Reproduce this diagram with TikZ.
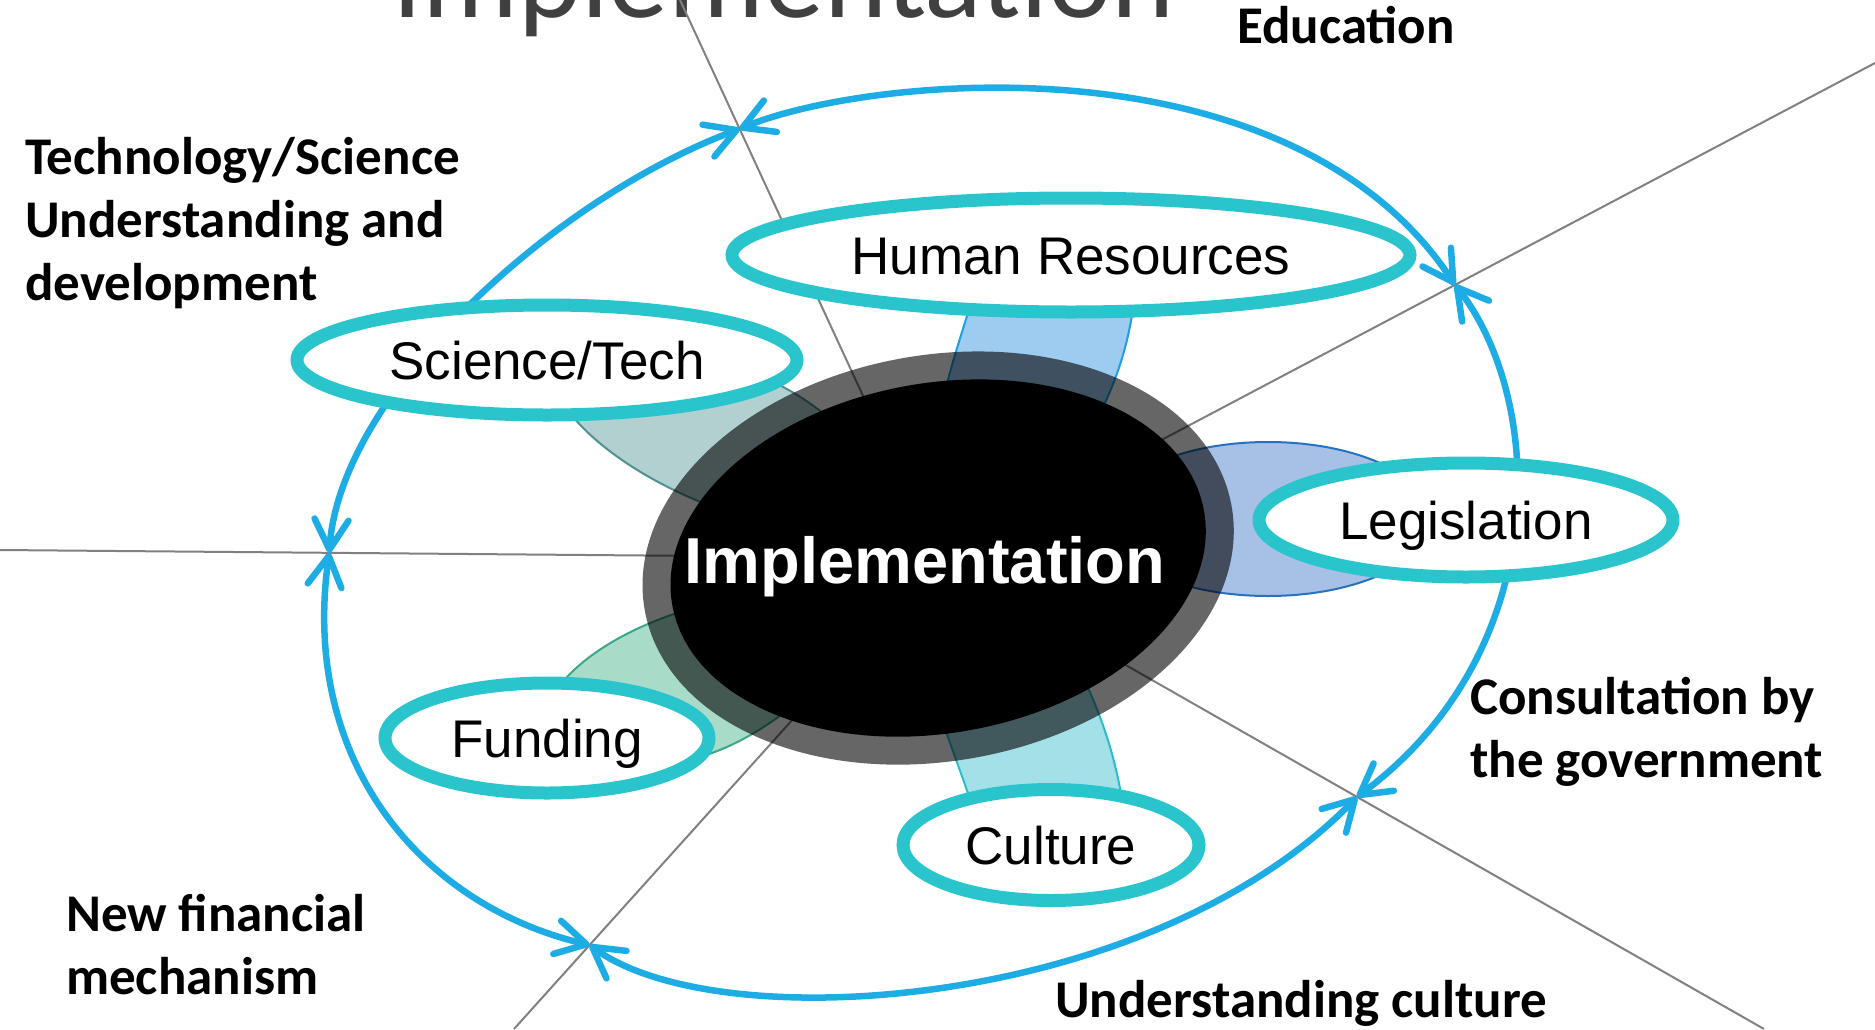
\documentclass[tikz,border=0pt]{standalone}
\usepackage{fontspec}
\setmainfont{Liberation Sans}
\newfontfamily\calfont{Carlito}
\usetikzlibrary{arrows.meta,shapes.geometric,calc}
\definecolor{loopblue}{RGB}{30,172,228}
\definecolor{satteal}{RGB}{42,197,204}
\definecolor{spokegrey}{RGB}{128,128,128}
\definecolor{titlegrey}{RGB}{64,64,64}
\definecolor{hrfill}{RGB}{158,204,240}
\definecolor{hrline}{RGB}{30,160,224}
\definecolor{scfill}{RGB}{178,208,208}
\definecolor{scline}{RGB}{80,144,144}
\definecolor{lgfill}{RGB}{166,192,230}
\definecolor{lgline}{RGB}{40,112,192}
\definecolor{fdfill}{RGB}{169,220,200}
\definecolor{fdline}{RGB}{58,168,136}
\definecolor{cufill}{RGB}{164,224,232}
\definecolor{culine}{RGB}{40,190,204}
\begin{document}
\begin{tikzpicture}[x=1pt,y=-1pt,
  spoke/.style={draw=spokegrey, line width=2pt},
  loopline/.style={draw=loopblue, line width=6.5pt,
    >={Straight Barb[length=30pt,width=34pt,round]}, <->},
  petal/.style 2 args={fill=#1, draw=#2, line width=2pt},
  sat/.style={ellipse, draw=satteal, line width=13pt, fill=white, inner sep=0pt,
    text height=38pt, text depth=0pt, font=\fontsize{53}{53}\selectfont},
  lbl/.style={anchor=base west, inner sep=0pt, align=left,
    font=\calfont\bfseries\fontsize{53}{63}\selectfont}]
\useasboundingbox (0,0) rectangle (1875,1029);
\clip (0,0) rectangle (1875,1029);

% title
\node[anchor=base west, inner sep=0pt, text=titlegrey,
  font=\calfont\fontsize{120}{120}\selectfont] (title) at (392,17) {Implementation};

% spokes
\coordinate (c) at (938,558);
\coordinate (e1) at (680,0);
\coordinate (e2) at (1875,63);
\coordinate (e3) at (0,550);
\coordinate (e4) at (514,1029);
\coordinate (e5) at (1764,1029);
\draw[spoke] (c) -- (e1);
\draw[spoke] (c) -- (e2);
\draw[spoke] (c) -- (e3);
\draw[spoke] (c) -- (e4);
\draw[spoke] (c) -- (e5);
\coordinate (j1) at ($(c)!0.769!(e1)$);
\coordinate (j2) at ($(c)!0.5518!(e2)$);
\coordinate (j3) at ($(c)!0.5073!(e5)$);
\coordinate (j4) at ($(c)!0.8217!(e4)$);
\coordinate (j5) at ($(c)!0.649!(e3)$);

% outer loop
\draw[loopline] (j1) .. controls (870,75) and (1290,35) .. (j2);
\draw[loopline] (j2) .. controls (1545,400) and (1555,650) .. (j3);
\draw[loopline] (j4) .. controls (720,1040) and (1150,1010) .. (j3);
\draw[loopline] (j5) .. controls (300,760) and (420,905) .. (j4);
\draw[loopline] (j1) .. controls (550,200) and (340,395) .. (j5);

% petals
\draw[petal={hrfill}{hrline}] (975,290) .. controls (960,340) and (945,380) .. (935,440)
  -- (1080,450) .. controls (1110,400) and (1130,350) .. (1135,290) -- cycle;
\draw[petal={scfill}{scline}] (560,400) .. controls (600,460) and (690,505) .. (770,525)
  -- (880,480) .. controls (850,430) and (810,395) .. (750,372) -- cycle;
\draw[petal={lgfill}{lgline}] (1268,519) ellipse [x radius=163, y radius=77];
\draw[petal={fdfill}{fdline}] (550,700) .. controls (575,655) and (640,622) .. (700,606)
  .. controls (730,598) and (750,595) .. (770,595) -- (800,700)
  .. controls (770,725) and (735,748) .. (690,760) -- cycle;
\draw[petal={cufill}{culine}] (980,830) .. controls (968,790) and (950,745) .. (935,700)
  -- (930,650) -- (1065,640) .. controls (1090,690) and (1115,740) .. (1125,820) -- cycle;

% centre
\draw[black, draw opacity=0.6, line width=30pt, rotate around={10:(c)}]
  (c) ellipse [x radius=283, y radius=188];
\fill[black, rotate around={10:(c)}] (c) ellipse [x radius=270, y radius=175];
\node[anchor=base, inner sep=0pt, text=white,
  font=\bfseries\fontsize{65}{65}\selectfont] (impl) at (925,583) {Implementation};

% satellites
\node[sat, minimum width=678pt, minimum height=114pt] (hr) at (1071,255) {Human Resources};
\node[sat, minimum width=500pt, minimum height=110pt] (sci) at (547,360) {Science/Tech};
\node[sat, minimum width=414pt, minimum height=114pt] (leg) at (1466,520) {Legislation};
\node[sat, minimum width=324pt, minimum height=110pt] (fund) at (547,738) {Funding};
\node[sat, minimum width=296pt, minimum height=111pt] (cult) at (1051,845) {Culture};

% labels (base anchor = baseline of last line)
\node[lbl] (ledu) at (1237,43) {Education};
\node[lbl] (ltech) at (25,300) {Technology/Science\\Understanding and\\development};
\node[lbl] (lcons) at (1470,777) {Consultation by\\the government};
\node[lbl] (lfin) at (66,994) {New financial\\mechanism};
\node[lbl] (lcult) at (1055,1017) {Understanding culture};
\end{tikzpicture}
\end{document}
